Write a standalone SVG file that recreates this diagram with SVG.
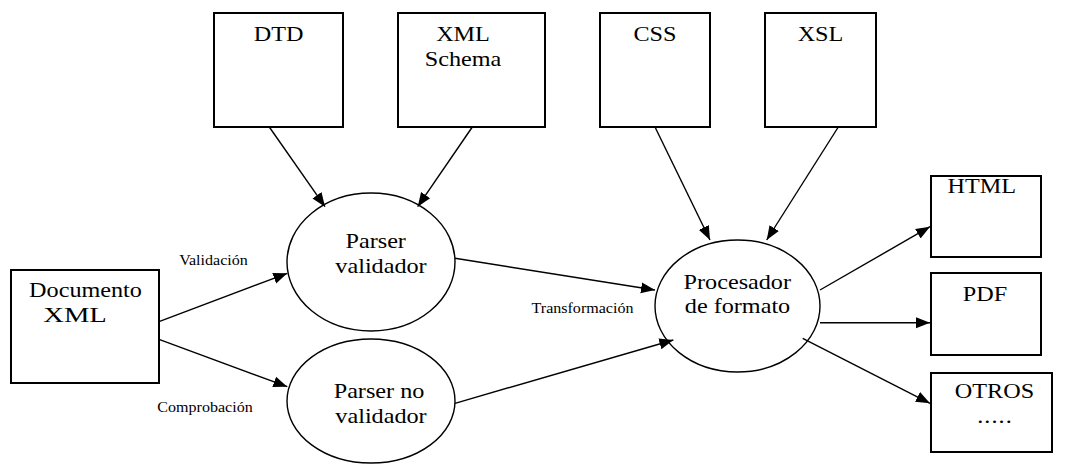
<svg xmlns="http://www.w3.org/2000/svg" width="1073" height="465" viewBox="0 0 1073 465">
<defs>
<marker id="ah" markerUnits="userSpaceOnUse" markerWidth="15" markerHeight="12" refX="14" refY="6" orient="auto">
<path d="M0,0.5 L14,6 L0,11.5 z" fill="#000"/>
</marker>
</defs>
<rect width="1073" height="465" fill="#fff"/>
<g id="nodes" font-family="Liberation Serif" font-size="22" text-anchor="middle" fill="#000">
<g id="dtd"><rect x="214" y="13" width="129" height="114" fill="#fff" stroke="#000" stroke-width="2"/><text transform="translate(278.7,40.7) scale(1.1,1)">DTD</text></g>
<g id="xmlschema"><rect x="398" y="13" width="147" height="114" fill="#fff" stroke="#000" stroke-width="2"/><text transform="translate(463,40.7) scale(1.1,1)">XML</text><text transform="translate(463,66) scale(1.1,1)">Schema</text></g>
<g id="css"><rect x="600" y="13" width="110" height="114" fill="#fff" stroke="#000" stroke-width="2"/><text transform="translate(655,40.7) scale(1.1,1)">CSS</text></g>
<g id="xsl"><rect x="765" y="13" width="111" height="114" fill="#fff" stroke="#000" stroke-width="2"/><text transform="translate(820.5,40.7) scale(1.1,1)">XSL</text></g>
<g id="documento"><rect x="11" y="270" width="148" height="113" fill="#fff" stroke="#000" stroke-width="2"/><text transform="translate(85.5,296.7) scale(1.1,1)">Documento</text><text transform="translate(75,322.3) scale(1.3,1)">XML</text></g>
<g id="parser-validador"><ellipse cx="371" cy="262" rx="84" ry="69" fill="#fff" stroke="#000" stroke-width="1.4"/><text transform="translate(375.7,248) scale(1.1,1)">Parser</text><text transform="translate(381,272.7) scale(1.1,1)">validador</text></g>
<g id="parser-no-validador"><ellipse cx="371" cy="401" rx="84" ry="62" fill="#fff" stroke="#000" stroke-width="1.4"/><text transform="translate(379,398) scale(1.1,1)">Parser no</text><text transform="translate(381,423.3) scale(1.1,1)">validador</text></g>
<g id="procesador"><ellipse cx="737.5" cy="306" rx="82.5" ry="66" fill="#fff" stroke="#000" stroke-width="1.4"/><text transform="translate(737.3,289.3) scale(1.1,1)">Procesador</text><text transform="translate(737.5,312.7) scale(1.1,1)">de formato</text></g>
<g id="html"><rect x="931" y="176" width="110" height="81" fill="#fff" stroke="#000" stroke-width="2"/><text transform="translate(981.7,193) scale(1.1,1)">HTML</text></g>
<g id="pdf"><rect x="931" y="273" width="110" height="82" fill="#fff" stroke="#000" stroke-width="2"/><text transform="translate(985,301) scale(1.1,1)">PDF</text></g>
<g id="otros"><rect x="931" y="373" width="121" height="79" fill="#fff" stroke="#000" stroke-width="2"/><text transform="translate(994.5,398.3) scale(1.1,1)">OTROS</text><text transform="translate(995,423.3) scale(1.1,1)" letter-spacing="1">.....</text></g>
</g>
<g id="connectors" stroke="#000" stroke-width="1.4" marker-end="url(#ah)">
<line x1="269.3" y1="127" x2="325" y2="206.7"/>
<line x1="472.3" y1="127" x2="417.7" y2="206.7"/>
<line x1="655" y1="127" x2="710" y2="240"/>
<line x1="838.3" y1="127" x2="766.7" y2="240"/>
<line x1="159" y1="321.7" x2="287.3" y2="273.3"/>
<line x1="159" y1="339.3" x2="287.3" y2="386.7"/>
<line x1="455" y1="258.3" x2="655" y2="290"/>
<line x1="455" y1="403.3" x2="673.3" y2="340"/>
<line x1="820" y1="290" x2="930" y2="226.7"/>
<line x1="820" y1="322.7" x2="930" y2="322.7"/>
<line x1="802.7" y1="338.3" x2="930" y2="403.3"/>
</g>
<g id="labels" font-family="Liberation Serif" font-size="14.6" text-anchor="middle" fill="#000">
<text transform="translate(213.5,265) scale(1.1,1)">Validación</text>
<text transform="translate(205,411.7) scale(1.1,1)">Comprobación</text>
<text transform="translate(582.5,313.3) scale(1.1,1)">Transformación</text>
</g>
</svg>
